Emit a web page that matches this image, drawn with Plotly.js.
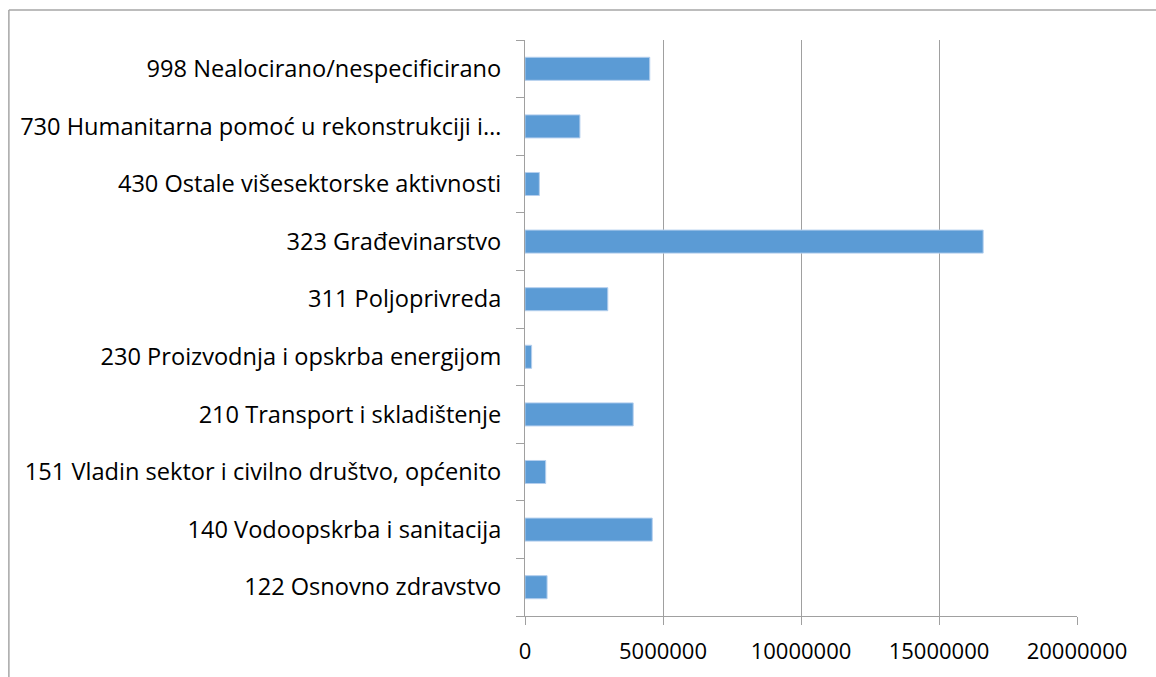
<!DOCTYPE html>
<html>
<head>
<meta charset="utf-8">
<script src="https://cdn.plot.ly/plotly-3.0.1.min.js"></script>
<style>html,body{margin:0;padding:0;background:#fff;}#chart{width:1156px;height:677px;}</style>
</head>
<body>
<div id="chart"></div>
<script>
const categories = [
  "122 Osnovno zdravstvo",
  "140 Vodoopskrba i sanitacija",
  "151 Vladin sektor i civilno društvo, općenito",
  "210 Transport i skladištenje",
  "230 Proizvodnja i opskrba energijom",
  "311 Poljoprivreda",
  "323 Građevinarstvo",
  "430 Ostale višesektorske aktivnosti",
  "730 Humanitarna pomoć u rekonstrukciji i…",
  "998 Nealocirano/nespecificirano"
];
const values = [800000, 4610000, 750000, 3920000, 240000, 3000000, 16600000, 520000, 1990000, 4520000];
const xTicks = [0, 5000000, 10000000, 15000000, 20000000];
const xTickLabels = ["0", "5000000", "10000000", "15000000", "20000000"];

const grid = "#a0a0a0";
const font = "Open Sans, Noto Sans, sans-serif";

Plotly.newPlot("chart", [{
  type: "bar",
  orientation: "h",
  y: categories,
  x: values,
  marker: {color: "#5b9bd5", line: {color: "#b4cfee", width: 1}},
  hoverinfo: "x+y"
}], {
  width: 1156, height: 677,
  margin: {l: 525, r: 79, t: 40, b: 61},
  paper_bgcolor: "#fff", plot_bgcolor: "#fff",
  bargap: 0.6,
  showlegend: false,
  font: {family: font, size: 20, color: "#000"},
  xaxis: {
    range: [0, 20000000],
    tickvals: xTicks, ticktext: xTickLabels,
    showgrid: true, gridcolor: grid, gridwidth: 1,
    showline: true, linecolor: grid, linewidth: 1,
    ticks: "outside", ticklen: 8, tickcolor: grid,
    ticklabelstandoff: 8,
    zeroline: false,
    tickfont: {family: font, size: 22, color: "#000"},
    fixedrange: true
  },
  yaxis: {
    type: "category",
    range: [-0.5, 9.5],
    showgrid: false,
    showline: true, linecolor: grid, linewidth: 1,
    ticks: "outside", ticklen: 8, tickcolor: grid, tickson: "boundaries",
    ticklabelstandoff: 18,
    tickfont: {family: font, size: 23.6, color: "#000"},
    fixedrange: true
  },
  shapes: [
    {type: "line", xref: "paper", yref: "paper", x0: -0.935, x1: 1.3, y0: 1.052, y1: 1.052, line: {color: "#a6a6a6", width: 1.5}},
    {type: "line", xref: "paper", yref: "paper", x0: -0.935, x1: -0.935, y0: -0.3, y1: 1.052, line: {color: "#a6a6a6", width: 1.5}}
  ]
}, {displayModeBar: false, staticPlot: true});
</script>
</body>
</html>
